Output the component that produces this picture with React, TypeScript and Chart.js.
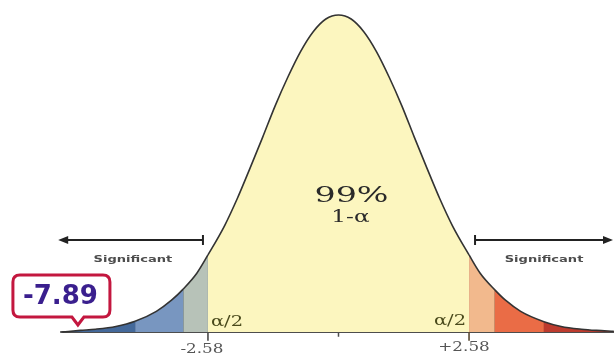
import React, { useEffect, useRef } from "react";
import { Chart, registerables } from "chart.js";

Chart.register(...registerables);

// Curve: z-score and density height
const curveZ = [-5.46, -5.1, -4.8, -4.4, -4.02, -3.6, -3.3, -3.07, -2.8, -2.58, -2.25, -2.0, -1.75, -1.5, -1.25, -1.0, -0.75, -0.5, -0.25, 0, 0.25, 0.5, 0.75, 1.0, 1.25, 1.5, 1.75, 2.0, 2.25, 2.58, 2.8, 3.09, 3.3, 3.6, 4.06, 4.4, 4.8, 5.1, 5.44];
const curveDensity = [0, 0.002, 0.0035, 0.007, 0.0135, 0.026, 0.04, 0.054, 0.074, 0.097, 0.134, 0.168, 0.206, 0.245, 0.285, 0.321, 0.353, 0.378, 0.394, 0.399, 0.394, 0.378, 0.353, 0.321, 0.285, 0.245, 0.206, 0.168, 0.134, 0.097, 0.074, 0.053, 0.04, 0.026, 0.013, 0.007, 0.0035, 0.002, 0.001];

// Shaded bands between these edges
const bandEdges = [-5.46, -4.02, -3.07, -2.58, 2.58, 3.09, 4.06, 5.44];
const bandColors = ["#44699a", "#7896c0", "#b7c2b8", "#fcf6bf", "#f2b98d", "#ea6c46", "#bd3b2e"];

// Divider lines inside the tails
const dividerZ = [-4.02, -3.07, -2.58, 2.58, 3.09, 4.06];
const dividerColors = ["#1f3150", "#1f3150", "#4a4a4a", "#5a4a32", "#6b2a1a", "#6b2a1a"];

const criticalZ = [-2.58, 2.58];
const criticalLabels = ["-2.58", "+2.58"];
const confidenceLabel = "99%";
const confidenceSub = "1-\u03B1";
const tailLabel = "\u03B1/2";
const significantLabel = "Significant";
const statValue = "-7.89";
const statZ = -5.15;

function densityAt(z: number): number {
  const i = curveZ.indexOf(z);
  return i >= 0 ? curveDensity[i] : 0;
}

function bandColorFor(z: number): string {
  for (let i = 0; i < bandEdges.length - 1; i++) {
    if (z >= bandEdges[i] - 1e-9 && z < bandEdges[i + 1] - 1e-9) return bandColors[i];
  }
  return bandColors[bandColors.length - 1];
}

function stretchText(
  ctx: CanvasRenderingContext2D,
  text: string,
  x: number,
  y: number,
  font: string,
  color: string,
  sx: number,
  align: CanvasTextAlign = "center"
) {
  ctx.save();
  ctx.translate(x, y);
  ctx.scale(sx, 1);
  ctx.font = font;
  ctx.fillStyle = color;
  ctx.textAlign = align;
  ctx.textBaseline = "middle";
  ctx.fillText(text, 0, 0);
  ctx.restore();
}

const annotations = {
  id: "annotations",
  afterDatasetsDraw(chart: any) {
    const ctx: CanvasRenderingContext2D = chart.ctx;
    const xs = chart.scales.x;
    const ys = chart.scales.y;
    const x0 = xs.getPixelForValue(0);
    const base = ys.getPixelForValue(0);
    const xL = xs.getPixelForValue(criticalZ[0]);
    const xR = xs.getPixelForValue(criticalZ[1]);

    // centre texts
    stretchText(ctx, confidenceLabel, x0 + 13, base - 136, "23px 'DejaVu Serif'", "#2a2a2a", 1.45);
    stretchText(ctx, confidenceSub, x0 + 12, base - 114, "16px 'DejaVu Serif'", "#2a2a2a", 1.45);

    // alpha/2
    stretchText(ctx, tailLabel, xL + 3, base - 10, "15px 'DejaVu Serif'", "#4a4a1c", 1.3, "left");
    stretchText(ctx, tailLabel, xR - 3, base - 11, "15px 'DejaVu Serif'", "#4a4a1c", 1.3, "right");

    // critical labels
    stretchText(ctx, criticalLabels[0], xL - 6, base + 18, "12px 'DejaVu Serif'", "#555555", 1.4);
    stretchText(ctx, criticalLabels[1], xR - 5, base + 16, "12px 'DejaVu Serif'", "#555555", 1.4);

    // Significant labels
    stretchText(ctx, significantLabel, xL - 75, base - 72, "bold 9px 'DejaVu Sans'", "#4d4d4d", 1.45);
    stretchText(ctx, significantLabel, xR + 75, base - 72, "bold 9px 'DejaVu Sans'", "#4d4d4d", 1.45);

    // arrows
    const ay = base - 92;
    ctx.save();
    ctx.strokeStyle = "#222222";
    ctx.fillStyle = "#222222";
    ctx.lineWidth = 2;
    const lStart = xL - 5;
    const lEnd = xs.getPixelForValue(-5.54);
    ctx.beginPath();
    ctx.moveTo(lStart, ay);
    ctx.lineTo(lEnd + 6, ay);
    ctx.stroke();
    ctx.beginPath();
    ctx.moveTo(lStart, ay - 5);
    ctx.lineTo(lStart, ay + 5);
    ctx.stroke();
    ctx.beginPath();
    ctx.moveTo(lEnd, ay);
    ctx.lineTo(lEnd + 10, ay - 4);
    ctx.lineTo(lEnd + 10, ay + 4);
    ctx.closePath();
    ctx.fill();
    const rStart = xR + 6;
    const rEnd = chart.width - 1;
    ctx.beginPath();
    ctx.moveTo(rStart, ay);
    ctx.lineTo(rEnd - 6, ay);
    ctx.stroke();
    ctx.beginPath();
    ctx.moveTo(rStart, ay - 5);
    ctx.lineTo(rStart, ay + 5);
    ctx.stroke();
    ctx.beginPath();
    ctx.moveTo(rEnd, ay);
    ctx.lineTo(rEnd - 10, ay - 4);
    ctx.lineTo(rEnd - 10, ay + 4);
    ctx.closePath();
    ctx.fill();
    ctx.restore();

    // callout
    const px = xs.getPixelForValue(statZ);
    const tipY = base - 7;
    const left = px - 65;
    const right = px + 32;
    const top = base - 57;
    const bottom = base - 15;
    const r = 7;
    ctx.save();
    ctx.beginPath();
    ctx.moveTo(left + r, top);
    ctx.lineTo(right - r, top);
    ctx.quadraticCurveTo(right, top, right, top + r);
    ctx.lineTo(right, bottom - r);
    ctx.quadraticCurveTo(right, bottom, right - r, bottom);
    ctx.lineTo(px + 6, bottom);
    ctx.lineTo(px, tipY);
    ctx.lineTo(px - 6, bottom);
    ctx.lineTo(left + r, bottom);
    ctx.quadraticCurveTo(left, bottom, left, bottom - r);
    ctx.lineTo(left, top + r);
    ctx.quadraticCurveTo(left, top, left + r, top);
    ctx.closePath();
    ctx.fillStyle = "#ffffff";
    ctx.fill();
    ctx.lineWidth = 3;
    ctx.strokeStyle = "#c3173f";
    ctx.stroke();
    ctx.restore();
    stretchText(ctx, statValue, (left + right) / 2 - 1, (top + bottom) / 2 + 1, "bold 26px 'DejaVu Sans'", "#3a1f8e", 1.0);
  },
};

export default function App() {
  const ref = useRef<HTMLCanvasElement | null>(null);

  useEffect(() => {
    document.body.style.margin = "0";
    if (!ref.current) return;
    const curve = curveZ.map((x, i) => ({ x, y: curveDensity[i] }));

    const dividerSets = dividerZ.map((z, i) => ({
      type: "line" as const,
      data: [
        { x: z, y: Math.abs(z) === 2.58 ? -0.011 : 0 },
        { x: z, y: densityAt(z) },
      ],
      borderColor: dividerColors[i],
      borderWidth: Math.abs(z) === 2.58 ? 1.6 : 1.8,
      pointRadius: 0,
      fill: false,
      order: 1,
    }));

    const chart = new Chart(ref.current, {
      type: "line",
      data: {
        datasets: [
          {
            data: curve,
            borderColor: "#333333",
            borderWidth: 1.6,
            backgroundColor: bandColors[3],
            fill: "origin",
            pointRadius: 0,
            cubicInterpolationMode: "monotone",
            segment: {
              backgroundColor: (c: any) => bandColorFor(c.p0.parsed.x),
            },
            order: 0,
          } as any,
          ...dividerSets,
          {
            data: [
              { x: -5.5, y: 0 },
              { x: 5.45, y: 0 },
            ],
            borderColor: "#4d4d4d",
            borderWidth: 2,
            pointRadius: 0,
            fill: false,
            order: 2,
          },
          {
            data: [
              { x: 0, y: 0 },
              { x: 0, y: -0.006 },
            ],
            borderColor: "#4d4d4d",
            borderWidth: 1.5,
            pointRadius: 0,
            fill: false,
            order: 2,
          },
        ],
      },
      options: {
        animation: false,
        responsive: false,
        devicePixelRatio: 1,
        layout: { padding: 0 },
        plugins: { legend: { display: false }, tooltip: { enabled: false } },
        scales: {
          x: { type: "linear", min: -6.69, max: 5.445, display: false },
          y: { type: "linear", min: -0.0315, max: 0.4179, display: false },
        },
      },
      plugins: [annotations],
    });
    return () => chart.destroy();
  }, []);

  return (
    <div style={{ width: 614, height: 357, background: "#ffffff" }}>
      <canvas ref={ref} width={614} height={357} />
    </div>
  );
}
